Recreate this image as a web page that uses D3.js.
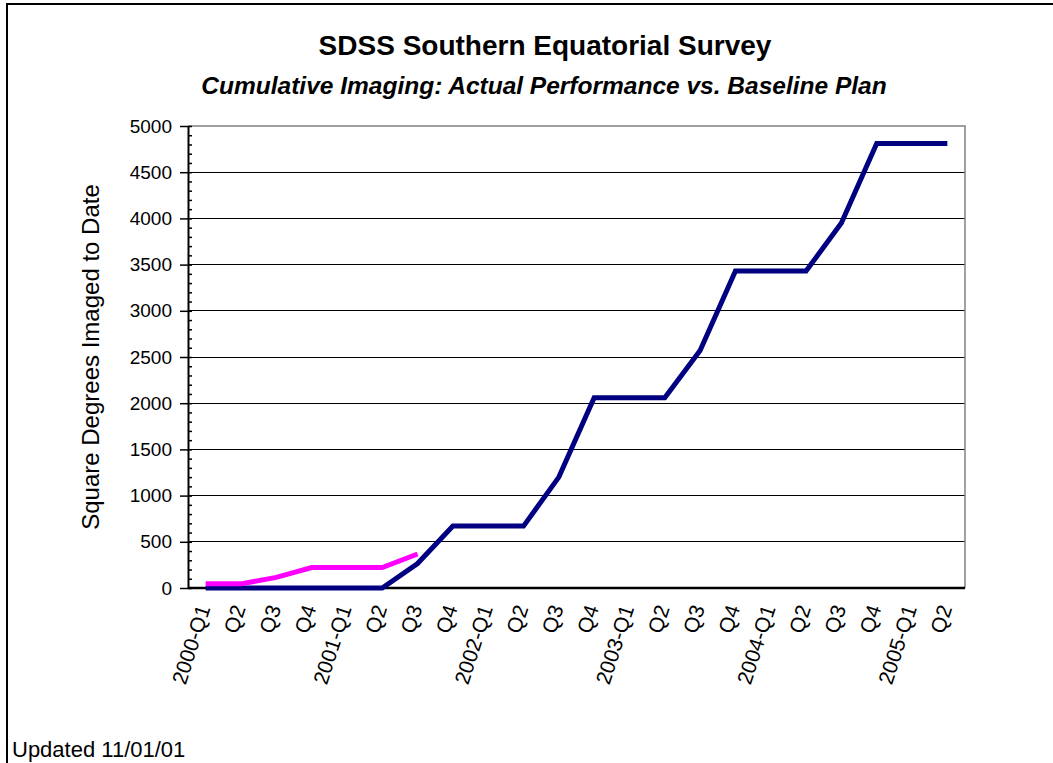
<!DOCTYPE html>
<html>
<head>
<meta charset="utf-8">
<script src="https://cdn.jsdelivr.net/npm/d3@7"></script>
<style>
body{margin:0;background:#fff;}
text{font-family:"Liberation Sans",Arial,sans-serif;fill:#000;}
</style>
</head>
<body>
<svg id="chart" width="1053" height="763"></svg>
<script>
// quarters, 2000-Q1 .. 2005-Q2
var quarters=["2000-Q1","Q2","Q3","Q4","2001-Q1","Q2","Q3","Q4","2002-Q1","Q2","Q3","Q4",
"2003-Q1","Q2","Q3","Q4","2004-Q1","Q2","Q3","Q4","2005-Q1","Q2"];
// baseline plan (navy)
var baseline=[0,0,0,0,0,0,265,670,670,670,1200,2060,2060,2060,2570,3430,3430,3430,3950,4810,4810,4810];
// actual performance (magenta), through 2001-Q3
var actual=[45,45,115,222,222,222,368];
var yTicks=[0,500,1000,1500,2000,2500,3000,3500,4000,4500,5000];

var svg=d3.select("#chart");
var margin={left:188,top:126,right:88,bottom:175},
width=1053-margin.left-margin.right,
height=763-margin.top-margin.bottom;

// outer frame
svg.append("rect").attr("x",7).attr("y",4).attr("width",1080).attr("height",800)
.attr("fill","none").attr("stroke","#000").attr("stroke-width",2);

svg.append("text").attr("x",545).attr("y",55).attr("text-anchor","middle")
.style("font-size","28px").style("font-weight","bold").text("SDSS Southern Equatorial Survey");
svg.append("text").attr("x",544).attr("y",94).attr("text-anchor","middle")
.style("font-size","24.5px").style("font-weight","bold").style("font-style","italic")
.text("Cumulative Imaging: Actual Performance vs. Baseline Plan");

var x=d3.scaleBand().domain(d3.range(quarters.length)).range([0,width]);
var y=d3.scaleLinear().domain([0,5000]).range([height,0]);

var g=svg.append("g").attr("transform","translate("+margin.left+","+margin.top+")");

// gridlines
g.selectAll(".grid").data(yTicks.filter(function(d){return d>0&&d<5000;}))
.enter().append("line").attr("x1",0).attr("x2",width)
.attr("y1",function(d){return y(d);}).attr("y2",function(d){return y(d);})
.attr("stroke","#000").attr("stroke-width",1).attr("shape-rendering","crispEdges");

// plot area top / right border
g.append("path").attr("d","M0,"+y(5000)+"H"+width+"V"+height)
.attr("fill","none").attr("stroke","#808080").attr("stroke-width",1.5);

// minor ticks (inside)
var yAxisMinor=d3.axisRight(y).tickValues(d3.range(0,5001,100)).tickSize(4).tickFormat("");
g.append("g").call(yAxisMinor).call(function(s){s.select(".domain").remove();
  s.selectAll("line").attr("stroke","#000").attr("stroke-width",1.5);});

var yAxis=d3.axisLeft(y).tickValues(yTicks).tickSize(8).tickPadding(8).tickSizeOuter(0).tickFormat(d3.format("d"));
g.append("g").call(yAxis).call(function(s){
  s.select(".domain").attr("stroke","#000").attr("stroke-width",2);
  s.selectAll("line").attr("stroke","#000").attr("stroke-width",1.5);
  s.selectAll("text").style("font-size","19px").style("font-family","Liberation Sans, Arial, sans-serif");
});

// x axis
g.append("line").attr("x1",0).attr("x2",width).attr("y1",height).attr("y2",height)
.attr("stroke","#000").attr("stroke-width",2.5);

g.selectAll(".xlab").data(quarters).enter().append("text")
.attr("text-anchor","end")
.attr("transform",function(d,i){return "translate("+(x(i)+x.bandwidth()/2+5)+","+(height+20)+") rotate(-72)";})
.style("font-size","21px").text(function(d){return d;});

var line=d3.line().x(function(d,i){return x(i)+x.bandwidth()/2;}).y(function(d){return y(d);});

g.append("path").datum(baseline).attr("d",line).attr("fill","none")
.attr("stroke","#000080").attr("stroke-width",5);
g.append("path").datum(actual).attr("d",line).attr("fill","none")
.attr("stroke","#ff00ff").attr("stroke-width",5);

svg.append("text").attr("transform","translate(99,"+(margin.top+height/2)+") rotate(-90)")
.attr("text-anchor","middle").style("font-size","24px").text("Square Degrees Imaged to Date");

svg.append("text").attr("x",12).attr("y",757).style("font-size","22px").text("Updated 11/01/01");
</script>
</body>
</html>
